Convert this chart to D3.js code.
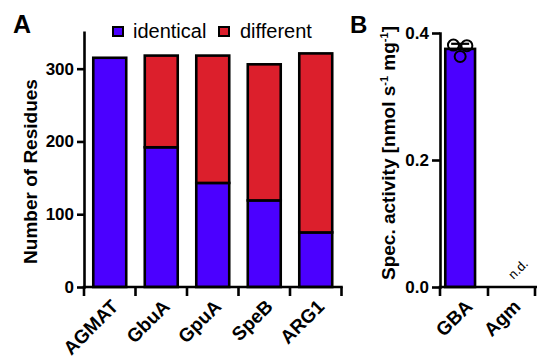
<!DOCTYPE html>
<html>
<head>
<meta charset="utf-8">
<script src="https://cdn.jsdelivr.net/npm/d3@7"></script>
<style>
  body { margin: 0; background: #fff; }
  svg { display: block; font-family: "Liberation Sans", Arial, sans-serif; }
</style>
</head>
<body>
<svg id="chart" width="537" height="359"></svg>
<script>
// panel A: residue comparison
const enzymes = ["AGMAT", "GbuA", "GpuA", "SpeB", "ARG1"];
const identical = [315, 192, 143, 119, 75];
const different = [0, 126, 175, 187, 246];
const residueTicks = [0, 100, 200, 300];

// panel B: specific activity
const substrates = ["GBA", "Agm"];
const activityMean = [0.375, null];   // Agm not detected
const activitySd = [0.008, null];
const gbaReplicates = [0.381, 0.380, 0.363];
const activityTicks = [0.0, 0.2, 0.4];

const BLUE = "#4b00ff", RED = "#dc1f2c";
const svg = d3.select("#chart");

function styleAxis(g) {
    g.select(".domain").attr("stroke", "#000").attr("stroke-width", 2.6).attr("stroke-linecap", "square");
    g.selectAll(".tick line").attr("stroke", "#000").attr("stroke-width", 2.6);
    g.selectAll(".tick text").attr("fill", "#000").style("font-size", "17px").style("font-weight", "bold")
        .style("font-family", "'Liberation Sans', Arial, sans-serif");
}

// ---------- Panel A ----------
const x = d3.scaleBand().domain(enzymes).range([84, 341.5]);
const y = d3.scaleLinear().domain([0, 350]).range([287, 32.3]);

const rows = enzymes.map((e, i) => ({ enzyme: e, identical: identical[i], different: different[i] }));
const stacked = d3.stack().keys(["identical", "different"])(rows);
const colors = { identical: BLUE, different: RED };
const barW = x.bandwidth() * 0.64;

svg.append("g").selectAll("g").data(stacked).enter().append("g")
    .attr("fill", d => colors[d.key])
    .selectAll("rect").data(d => d.filter(s => s[1] > s[0])).enter().append("rect")
    .attr("x", d => x(d.data.enzyme) + (x.bandwidth() - barW) / 2)
    .attr("width", barW)
    .attr("y", d => y(d[1]))
    .attr("height", d => y(d[0]) - y(d[1]))
    .attr("stroke", "#000")
    .attr("stroke-width", 2.6);

svg.append("g").attr("transform", "translate(84,0)")
    .call(d3.axisLeft(y).tickValues(residueTicks).tickSize(7).tickSizeOuter(0).tickPadding(3))
    .call(styleAxis);

// x axis with ticks at band boundaries
const xa = svg.append("g");
xa.append("line").attr("x1", x.range()[0]).attr("x2", x.range()[1]).attr("y1", 287).attr("y2", 287)
    .attr("stroke", "#000").attr("stroke-width", 2.6).attr("stroke-linecap", "square");
xa.selectAll(".tk").data(enzymes.map(e => x(e)).concat([x.range()[1]])).enter().append("line")
    .attr("x1", d => d).attr("x2", d => d).attr("y1", 287).attr("y2", 296)
    .attr("stroke", "#000").attr("stroke-width", 2.6);
xa.selectAll("text").data(enzymes).enter().append("text")
    .attr("transform", d => `translate(${x(d) + x.bandwidth() / 2 + 5},303) rotate(-45)`)
    .attr("text-anchor", "end").attr("dy", "0.35em")
    .style("font-size", "19px").style("font-weight", "bold")
    .text(d => d);

svg.append("text").attr("transform", "translate(37,171.5) rotate(-90)")
    .attr("text-anchor", "middle").style("font-size", "19px").style("font-weight", "bold")
    .text("Number of Residues");

// legend
const legend = [["identical", BLUE, 113, 133], ["different", RED, 219, 240]];
legend.forEach(([label, c, rx, tx]) => {
    svg.append("rect").attr("x", rx).attr("y", 27).attr("width", 10).attr("height", 9)
        .attr("fill", c).attr("stroke", "#000").attr("stroke-width", 2);
    svg.append("text").attr("x", tx).attr("y", 37.5).style("font-size", "20px").text(label);
});

svg.append("text").attr("x", 13).attr("y", 33).style("font-size", "25px").style("font-weight", "bold").text("A");

// ---------- Panel B ----------
const xb = d3.scaleBand().domain(substrates).range([440, 536]);
const yb = d3.scaleLinear().domain([0, 0.4]).range([287, 33]);
const barWb = xb.bandwidth() * 0.62;
const barOff = xb.bandwidth() * 0.11;
const bx = d => xb(d) + barOff;

svg.append("g").selectAll("rect").data(substrates.filter((s, i) => activityMean[i] != null)).enter().append("rect")
    .attr("x", d => bx(d))
    .attr("width", barWb)
    .attr("y", d => yb(activityMean[substrates.indexOf(d)]))
    .attr("height", d => yb(0) - yb(activityMean[substrates.indexOf(d)]))
    .attr("fill", BLUE).attr("stroke", "#000").attr("stroke-width", 2.6);

// error bar (upper half) and replicate points
const gcx = bx("GBA") + barWb / 2;
const jitter = [-6.7, 6.7, 0];
svg.append("line").attr("x1", gcx).attr("x2", gcx)
    .attr("y1", yb(activityMean[0])).attr("y2", yb(activityMean[0] + activitySd[0]))
    .attr("stroke", "#000").attr("stroke-width", 2);
svg.append("line").attr("x1", gcx - 9).attr("x2", gcx + 9)
    .attr("y1", yb(activityMean[0] + activitySd[0])).attr("y2", yb(activityMean[0] + activitySd[0]))
    .attr("stroke", "#000").attr("stroke-width", 2.2);
svg.append("g").selectAll("circle").data(gbaReplicates).enter().append("circle")
    .attr("cx", (d, i) => gcx + jitter[i])
    .attr("cy", d => yb(d))
    .attr("r", 5.5)
    .attr("fill", "none").attr("stroke", "#000").attr("stroke-width", 2);

svg.append("g").attr("transform", "translate(440,0)")
    .call(d3.axisLeft(yb).tickValues(activityTicks).tickFormat(d3.format(".1f")).tickSize(8).tickSizeOuter(0).tickPadding(3))
    .call(styleAxis);

const xba = svg.append("g");
xba.append("line").attr("x1", xb.range()[0]).attr("x2", xb.range()[1]).attr("y1", 287).attr("y2", 287)
    .attr("stroke", "#000").attr("stroke-width", 2.6).attr("stroke-linecap", "square");
xba.selectAll(".tk").data(substrates.map(s => xb(s)).concat([xb.range()[1] - 1])).enter().append("line")
    .attr("x1", d => d).attr("x2", d => d).attr("y1", 287).attr("y2", 296)
    .attr("stroke", "#000").attr("stroke-width", 2.6);
xba.selectAll("text").data(substrates).enter().append("text")
    .attr("transform", d => `translate(${xb(d) + xb.bandwidth() / 2 + 5},303) rotate(-45)`)
    .attr("text-anchor", "end").attr("dy", "0.35em")
    .style("font-size", "19px").style("font-weight", "bold")
    .text(d => d);

// not detected label
svg.append("text")
    .attr("transform", `translate(${xb("Agm") + xb.bandwidth() / 2 + 6},269) rotate(-45)`)
    .attr("text-anchor", "middle").attr("dy", "0.35em")
    .style("font-size", "13px").attr("fill", "#000")
    .text("n.d.");

const yt = svg.append("text").attr("transform", "translate(395,153) rotate(-90)")
    .attr("text-anchor", "middle").style("font-size", "19px").style("font-weight", "bold");
yt.append("tspan").text("Spec. activity [nmol s");
yt.append("tspan").attr("dy", -7).style("font-size", "11px").text("-1");
yt.append("tspan").attr("dy", 7).text(" mg");
yt.append("tspan").attr("dy", -7).style("font-size", "11px").text("-1");
yt.append("tspan").attr("dy", 7).text("]");

svg.append("text").attr("x", 350).attr("y", 33).style("font-size", "24px").style("font-weight", "bold").text("B");
</script>
</body>
</html>
